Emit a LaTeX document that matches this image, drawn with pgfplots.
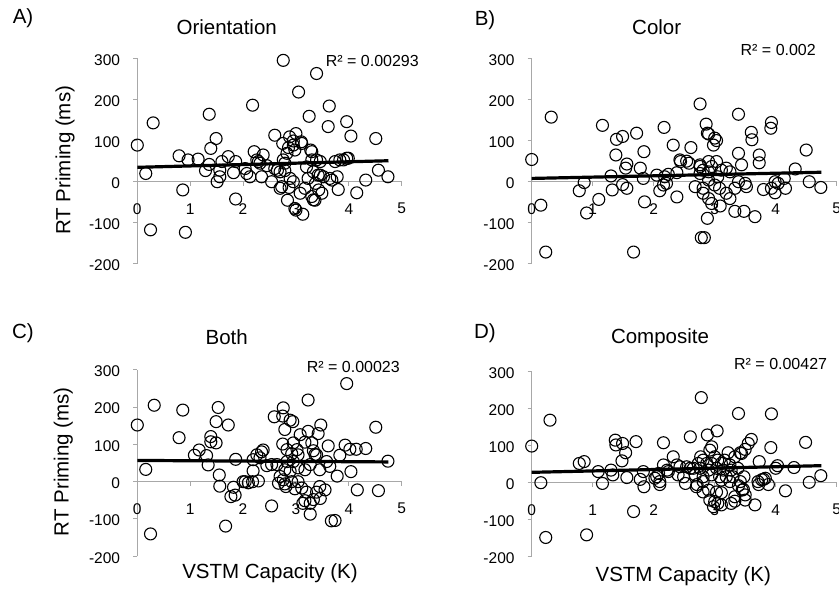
\documentclass[border=0pt]{standalone}
\usepackage{pgfplots}
\pgfplotsset{compat=1.18}
\usepackage{fontspec}
\setmainfont{Liberation Sans}

\newcommand{\tkf}{\fontsize{15.5}{17}\selectfont}
\pgfplotsset{
  myax/.style={
    scale only axis,
    anchor=south west,
    xmin=0, xmax=5, ymin=-200, ymax=300,
    axis lines=middle,
    axis line style={-, draw=gray!68, line width=1pt},
    hide obscured x ticks=false, hide obscured y ticks=false,
    xtick={0,1,2,3,4,5}, ytick={-200,-100,0,100,200,300},
    tick style={draw=gray!68, line width=1pt},
    major tick length=4pt,
    tick align=outside,
    xticklabel={\tkf\pgfmathprintnumber[assume math mode=true]{\tick}},
    yticklabel={\tkf\pgfmathprintnumber[assume math mode=true]{\tick}},
    xticklabel style={anchor=center, yshift=-23pt},
    yticklabel style={anchor=east, inner sep=0pt, xshift=-13pt, yshift=-1.5pt},
    clip=false,
  },
  scat/.style={only marks, mark=o, mark size=6pt, mark options={line width=1.1pt, draw=black}},
  trend/.style={no marks, black, line width=3.2pt},
}
\newcommand{\ttl}{\fontsize{20.5}{23}\selectfont}
\newcommand{\rtxt}{\fontsize{16}{18}\selectfont}

\begin{document}
\begin{tikzpicture}
\useasboundingbox (0,0) rectangle (839pt,589pt);

% ---------------- A) Orientation
\begin{axis}[myax, at={(137.3pt,325pt)}, width=264.4pt, height=205.7pt]
\addplot[scat] table {
x y
0.00 89
0.16 20
0.30 143
0.25 -117
0.79 63
0.86 -20
0.91 -123
0.96 53
1.15 55
1.36 164
1.39 81
1.49 105
1.29 27
1.36 42
1.51 0
1.56 12
1.56 28
1.60 49
1.72 61
1.82 22
1.86 49
1.86 -42
2.04 32
2.07 20
2.13 12
2.18 186
2.21 73
2.26 53
2.29 49
2.32 45
2.38 65
2.35 12
2.45 39
2.54 0
2.60 113
2.60 32
2.65 28
2.70 -16
2.70 24
2.73 -12
2.75 93
2.76 295
2.76 53
2.79 45
2.79 27
2.83 69
2.84 -45
2.86 83
2.87 -14
2.88 109
2.89 8
2.95 89
2.95 0
2.95 99
2.98 77
2.98 -65
3.00 117
3.00 -69
3.05 218
3.08 -28
3.10 97
3.11 93
3.13 -79
3.17 -16
3.20 36
3.23 8
3.25 159
3.28 77
3.30 73
3.30 53
3.30 -36
3.33 24
3.33 -44
3.36 -45
3.37 -4
3.39 263
3.39 53
3.42 16
3.43 -20
3.46 49
3.46 16
3.49 -28
3.52 12
3.61 134
3.63 184
3.64 8
3.68 4
3.74 49
3.78 12
3.80 -19
3.83 53
3.90 53
3.96 146
3.96 57
3.99 57
4.04 111
4.15 -27
4.32 4
4.51 105
4.56 28
4.74 12
};
\addplot[trend] coordinates {(0,35) (4.75,51)};
\end{axis}

% ---------------- B) Color
\begin{axis}[myax, at={(531.7pt,325pt)}, width=305pt, height=205.7pt]
\addplot[scat] table {
x y
0.00 54
0.15 -57
0.23 -171
0.32 157
0.78 -22
0.86 -2
0.90 -76
1.10 -43
1.16 137
1.30 14
1.32 -20
1.38 65
1.39 103
1.49 110
1.49 -7
1.54 33
1.56 43
1.56 -16
1.67 -171
1.72 118
1.78 33
1.83 8
1.84 73
1.85 -49
2.05 16
2.10 -22
2.16 -8
2.17 132
2.18 12
2.21 -4
2.24 18
2.32 89
2.38 22
2.38 -37
2.43 53
2.44 49
2.54 50
2.58 45
2.61 83
2.68 -12
2.76 189
2.76 37
2.76 41
2.76 20
2.78 -136
2.81 28
2.81 -16
2.81 -28
2.83 -136
2.86 140
2.88 -89
2.88 118
2.90 116
2.90 49
2.90 24
2.90 4
2.90 -41
2.95 37
2.95 -53
2.98 89
3.00 106
3.00 -8
3.03 100
3.03 49
3.05 12
3.08 -16
3.09 -59
3.11 28
3.19 33
3.19 -28
3.25 24
3.25 -41
3.33 -16
3.33 -72
3.39 164
3.39 69
3.39 0
3.44 41
3.48 -72
3.50 -4
3.52 -12
3.60 120
3.61 102
3.66 -85
3.73 65
3.73 46
3.80 -19
3.92 130
3.93 144
3.93 -16
3.99 -27
3.99 0
4.04 -4
4.14 8
4.16 -16
4.32 31
4.50 77
4.55 0
4.74 -14
};
\addplot[trend] coordinates {(0,8) (4.75,23)};
\end{axis}

% ---------------- C) Both
\begin{axis}[myax, at={(137.3pt,32.7pt)}, width=264.4pt, height=186.5pt]
\addplot[scat] table {
x y
0.00 152
0.16 33
0.25 -140
0.32 205
0.79 118
0.86 192
1.08 71
1.17 85
1.31 70
1.34 45
1.39 121
1.39 107
1.49 104
1.49 161
1.53 199
1.55 18
1.56 -12
1.67 -119
1.72 152
1.77 -40
1.82 -15
1.85 -36
1.86 60
2.00 0
2.04 0
2.10 -3
2.18 0
2.19 59
2.19 29
2.26 72
2.29 2
2.32 64
2.35 80
2.38 85
2.45 43
2.54 46
2.54 -65
2.59 174
2.64 46
2.67 -4
2.70 14
2.75 101
2.75 176
2.76 198
2.76 5
2.79 140
2.79 32
2.79 -6
2.81 -13
2.83 86
2.83 54
2.89 165
2.89 28
2.92 75
2.92 0
2.94 161
2.95 104
2.95 54
2.98 -19
3.02 86
3.04 72
3.04 37
3.04 0
3.08 126
3.11 -17
3.13 -58
3.17 106
3.17 32
3.17 -51
3.20 -28
3.23 219
3.23 135
3.27 46
3.27 -58
3.27 -87
3.30 104
3.33 83
3.33 -48
3.36 73
3.39 72
3.39 -28
3.42 129
3.45 32
3.45 -13
3.46 -45
3.47 152
3.55 -22
3.58 54
3.61 96
3.64 41
3.67 -105
3.74 -104
3.78 15
3.83 71
3.93 98
3.96 263
4.02 87
4.04 27
4.14 87
4.16 -22
4.32 89
4.51 146
4.56 -24
4.74 55
};
\addplot[trend] coordinates {(0,57) (4.75,53)};
\end{axis}

% ---------------- D) Composite
\begin{axis}[myax, at={(531.7pt,32.3pt)}, width=305pt, height=185pt]
\addplot[scat] table {
x y
0.00 99
0.15 0
0.23 -148
0.30 169
0.78 52
0.86 57
0.90 -141
1.09 30
1.16 -2
1.30 34
1.33 21
1.37 115
1.38 102
1.48 59
1.49 106
1.54 81
1.56 14
1.67 -78
1.71 111
1.78 9
1.83 30
1.84 -11
2.02 12
2.05 16
2.08 25
2.10 -5
2.10 3
2.16 108
2.16 48
2.22 34
2.24 30
2.32 70
2.38 48
2.40 21
2.43 43
2.49 16
2.52 -2
2.54 43
2.60 124
2.60 39
2.65 39
2.68 21
2.70 -11
2.71 -5
2.73 52
2.76 39
2.77 70
2.78 230
2.81 61
2.81 16
2.81 3
2.81 -25
2.87 52
2.88 129
2.90 34
2.90 -20
2.92 88
2.92 -47
2.95 97
2.95 52
2.95 21
2.98 -65
3.00 70
3.00 -51
3.03 39
3.03 -25
3.04 140
3.05 61
3.05 -56
3.08 16
3.11 52
3.11 7
3.11 -27
3.11 -60
3.14 34
3.16 61
3.19 16
3.22 81
3.25 48
3.25 3
3.27 34
3.27 -56
3.30 16
3.33 70
3.33 -38
3.33 -50
3.38 39
3.39 187
3.39 -8
3.42 81
3.42 3
3.44 79
3.45 -20
3.47 -18
3.48 16
3.50 90
3.50 -33
3.50 -47
3.55 106
3.60 117
3.66 -60
3.71 3
3.72 -5
3.73 57
3.77 8
3.80 9
3.83 12
3.88 -5
3.92 95
3.93 186
4.00 39
4.03 46
4.16 -22
4.30 41
4.49 109
4.55 1
4.74 19
};
\addplot[trend] coordinates {(0,28) (4.75,46)};
\end{axis}

% ---------------- texts
\node[font=\ttl] at (23pt,571pt) {A)};
\node[font=\ttl] at (485pt,569pt) {B)};
\node[font=\ttl] at (23pt,255.7pt) {C)};
\node[font=\ttl] at (485pt,255.7pt) {D)};

\node[font=\ttl] at (226.7pt,562.3pt) {Orientation};
\node[font=\ttl] at (656.7pt,562.3pt) {Color};
\node[font=\ttl] at (226.7pt,252.3pt) {Both};
\node[font=\ttl] at (660pt,250.7pt) {Composite};

\node[font=\rtxt, anchor=east, inner sep=0pt] at (419pt,528pt) {R² = 0.00293};
\node[font=\rtxt, anchor=east, inner sep=0pt] at (816pt,539pt) {R² = 0.002};
\node[font=\rtxt, anchor=east, inner sep=0pt] at (400pt,222.3pt) {R² = 0.00023};
\node[font=\rtxt, anchor=east, inner sep=0pt] at (827.3pt,225pt) {R² = 0.00427};

\node[font=\ttl, rotate=90] at (65pt,428.7pt) {RT Priming (ms)};
\node[font=\ttl, rotate=90] at (63.3pt,127.3pt) {RT Priming (ms)};
\node[font=\ttl] at (270pt,15.7pt) {VSTM Capacity (K)};
\node[font=\ttl] at (683.3pt,12.3pt) {VSTM Capacity (K)};
\end{tikzpicture}
\end{document}
